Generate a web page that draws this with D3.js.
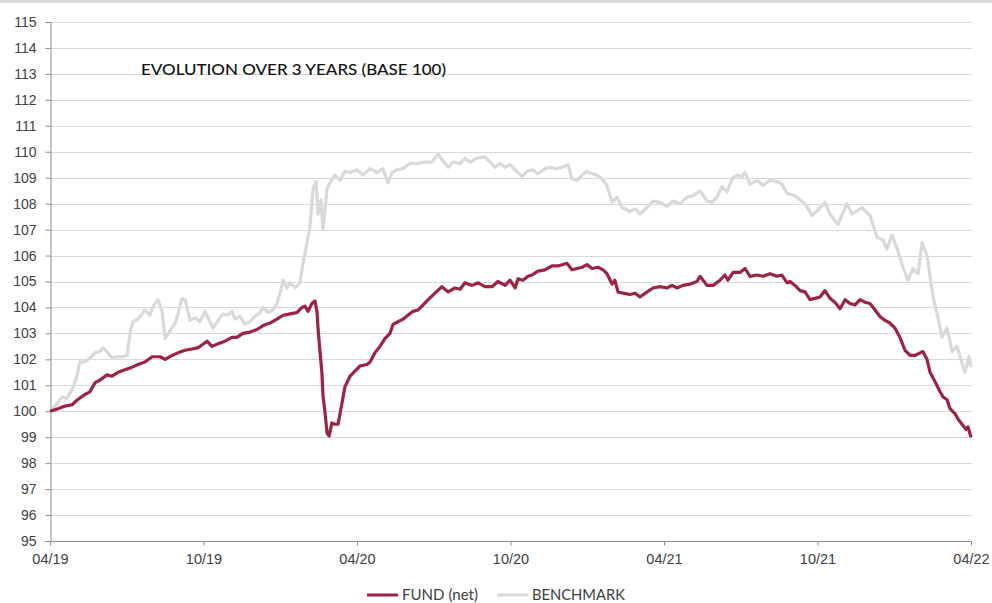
<!DOCTYPE html>
<html><head><meta charset="utf-8">
<script src="https://cdn.jsdelivr.net/npm/d3@7"></script>
<style>
body{margin:0;background:#fff;}
svg{display:block;font-family:Lato,"Open Sans",sans-serif;}
</style></head>
<body><svg id="chart" width="992" height="603"></svg>
<script>
// months since April 2019 and index values (base 100)
const fundMonths = [0,0.31,0.59,0.86,1.09,1.37,1.56,1.76,1.95,2.23,2.42,2.66,2.93,3.21,3.44,3.71,3.99,4.30,4.50,4.77,5.00,5.28,5.55,5.79,6.14,6.33,6.57,6.84,7.11,7.31,7.54,7.82,8.09,8.33,8.60,8.87,9.11,9.38,9.65,9.85,9.97,10.08,10.24,10.36,10.44,10.48,10.55,10.63,10.67,10.75,10.83,10.91,11.02,11.14,11.26,11.41,11.53,11.73,11.92,12.12,12.39,12.51,12.70,12.90,13.09,13.29,13.41,13.60,13.80,13.99,14.19,14.38,14.54,14.78,15.05,15.32,15.56,15.83,16.03,16.22,16.50,16.73,17.00,17.28,17.51,17.79,17.98,18.18,18.29,18.49,18.68,18.84,19.07,19.35,19.62,19.86,20.21,20.40,20.60,20.80,20.99,21.19,21.42,21.62,21.77,21.97,22.08,22.20,22.40,22.67,22.87,23.06,23.34,23.57,23.84,24.12,24.31,24.51,24.74,25.02,25.29,25.41,25.68,25.92,26.19,26.38,26.50,26.70,26.97,27.17,27.36,27.64,27.87,28.14,28.42,28.61,28.81,28.93,29.12,29.32,29.51,29.71,29.90,30.10,30.29,30.49,30.68,30.88,31.08,31.27,31.47,31.66,31.86,32.05,32.25,32.44,32.64,32.83,33.03,33.22,33.42,33.62,33.81,34.01,34.12,34.28,34.40,34.59,34.79,34.91,35.06,35.18,35.38,35.49,35.65,35.80,35.88,36.00];
const fundValues = [100.0,100.1,100.2,100.25,100.45,100.65,100.75,101.1,101.2,101.4,101.35,101.5,101.6,101.7,101.8,101.9,102.1,102.1,102.0,102.15,102.25,102.35,102.4,102.45,102.7,102.5,102.6,102.7,102.85,102.85,103.0,103.05,103.15,103.3,103.4,103.55,103.7,103.75,103.8,104.0,104.05,103.85,104.15,104.25,103.8,103.15,102.35,101.45,100.6,99.95,99.15,99.05,99.55,99.5,99.5,100.3,100.95,101.35,101.55,101.75,101.8,101.9,102.25,102.5,102.8,103.0,103.35,103.45,103.55,103.7,103.85,103.9,104.05,104.3,104.55,104.8,104.6,104.75,104.7,104.95,104.85,104.95,104.8,104.8,105.0,104.85,105.05,104.75,105.1,105.05,105.2,105.25,105.4,105.45,105.6,105.6,105.7,105.45,105.5,105.55,105.65,105.5,105.55,105.45,105.3,104.9,105.05,104.6,104.55,104.5,104.55,104.4,104.6,104.75,104.8,104.75,104.85,104.75,104.85,104.9,105.0,105.2,104.85,104.85,105.05,105.25,105.05,105.35,105.35,105.5,105.2,105.25,105.2,105.3,105.2,105.25,104.95,105.0,104.85,104.65,104.6,104.3,104.35,104.4,104.65,104.35,104.2,103.95,104.3,104.15,104.1,104.3,104.2,104.15,103.9,103.65,103.5,103.4,103.2,102.85,102.35,102.15,102.15,102.25,102.3,102.0,101.5,101.15,100.75,100.55,100.45,100.1,99.9,99.7,99.5,99.3,99.4,99.0];
const benchMonths = [0,0.20,0.47,0.66,0.78,0.90,1.06,1.17,1.37,1.56,1.76,1.95,2.07,2.27,2.42,2.62,2.81,3.01,3.13,3.24,3.44,3.60,3.71,3.91,4.03,4.22,4.38,4.50,4.69,4.89,5.00,5.16,5.28,5.47,5.67,5.86,6.06,6.25,6.37,6.57,6.76,6.96,7.11,7.23,7.43,7.62,7.82,8.01,8.21,8.33,8.52,8.72,8.87,8.99,9.11,9.26,9.38,9.58,9.77,9.89,10.05,10.16,10.28,10.40,10.48,10.59,10.67,10.83,10.94,11.14,11.34,11.53,11.73,12.00,12.23,12.51,12.78,13.02,13.21,13.37,13.56,13.80,14.07,14.35,14.66,14.93,15.17,15.36,15.56,15.75,16.03,16.22,16.42,16.69,17.00,17.20,17.39,17.59,17.79,17.98,18.18,18.45,18.65,18.88,19.07,19.35,19.54,19.74,20.01,20.25,20.40,20.60,20.80,20.99,21.19,21.38,21.58,21.77,21.97,22.16,22.36,22.67,22.87,23.06,23.34,23.57,23.84,24.12,24.35,24.63,24.90,25.13,25.41,25.68,25.88,26.07,26.27,26.46,26.66,26.85,27.05,27.17,27.36,27.64,27.87,28.14,28.42,28.61,28.81,29.12,29.51,29.78,30.02,30.29,30.49,30.80,31.15,31.35,31.74,32.05,32.33,32.56,32.72,32.91,33.15,33.34,33.54,33.73,33.93,34.09,34.28,34.40,34.52,34.71,34.87,35.06,35.26,35.45,35.76,35.92,36.00];
const benchValues = [100.0,100.2,100.55,100.5,100.7,100.9,101.4,101.9,101.9,102.05,102.25,102.3,102.45,102.25,102.05,102.1,102.1,102.15,103.0,103.45,103.55,103.75,103.9,103.7,104.05,104.3,103.85,102.8,103.1,103.4,103.75,104.35,104.3,103.5,103.6,103.45,103.85,103.45,103.2,103.5,103.75,103.7,103.85,103.55,103.65,103.35,103.45,103.65,103.8,104.0,103.8,103.9,104.15,104.55,105.05,104.75,104.95,104.75,104.95,105.7,106.5,107.1,108.55,108.85,107.6,108.15,107.0,108.55,108.8,109.1,108.9,109.25,109.2,109.3,109.1,109.35,109.2,109.35,108.8,109.2,109.3,109.35,109.55,109.55,109.6,109.6,109.9,109.65,109.4,109.6,109.55,109.75,109.6,109.75,109.8,109.6,109.4,109.55,109.4,109.5,109.3,109.05,109.25,109.3,109.15,109.35,109.4,109.35,109.4,109.5,108.95,108.9,109.1,109.25,109.15,109.1,108.95,108.7,108.05,108.25,107.85,107.7,107.8,107.6,107.85,108.1,108.05,107.9,108.1,108.0,108.25,108.3,108.5,108.1,108.05,108.25,108.65,108.45,108.95,109.1,109.05,109.2,108.75,108.9,108.7,108.9,108.85,108.75,108.4,108.3,108.0,107.55,107.75,108.05,107.6,107.2,108.0,107.6,107.85,107.55,106.7,106.6,106.25,106.8,106.15,105.55,105.05,105.5,105.3,106.5,106.0,105.2,104.4,103.6,102.85,103.2,102.3,102.5,101.5,102.1,101.7];
const xTickMonths = [0,6,12,18,24,30,36];
const xTickLabels = ["04/19","10/19","04/20","10/20","04/21","10/21","04/22"];
const yTicks = d3.range(95,116,1);
const seriesNames = ["FUND (net)","BENCHMARK"];
const seriesColors = ["#9b2443","#d9d9d9"];
const title = "EVOLUTION OVER 3 YEARS (BASE 100)";

const svg = d3.select("#chart");
const W = 992, H = 603;
const m = {left:50, right:21, top:22, bottom:62};
const x = d3.scaleLinear().domain([0,36]).range([m.left, W-m.right]);
const y = d3.scaleLinear().domain([95,115]).range([H-m.bottom, m.top]);

svg.append("rect").attr("x",0).attr("y",0).attr("width",W).attr("height",3).attr("fill","#d9d9d9");

// gridlines
svg.append("g").selectAll("line").data(yTicks.filter(d=>d>95)).join("line")
  .attr("x1",m.left).attr("x2",W-m.right+1)
  .attr("y1",d=>Math.round(y(d))+0.5).attr("y2",d=>Math.round(y(d))+0.5)
  .attr("stroke","#d9d9d9").attr("stroke-width",1);

// y axis
const yAxis = svg.append("g").attr("transform",`translate(${m.left+0.5},0)`)
  .call(d3.axisLeft(y).tickValues(yTicks).tickSize(5).tickPadding(9).tickFormat(d3.format("d")));
yAxis.select(".domain").attr("stroke","#8c8c8c");
yAxis.selectAll(".tick line").attr("stroke","#8c8c8c");
yAxis.selectAll("text").attr("fill","#404040").style("font-size","14px");

// x axis
const xAxis = svg.append("g").attr("transform",`translate(0,${Math.round(y(95))+0.5})`)
  .call(d3.axisBottom(x).tickValues(xTickMonths).tickSize(4).tickPadding(8).tickFormat((d,i)=>xTickLabels[i]));
xAxis.select(".domain").attr("stroke","#8c8c8c").attr("d",`M${m.left},0H${W-m.right}`);
xAxis.selectAll(".tick line").attr("stroke","#8c8c8c");
xAxis.selectAll("text").attr("fill","#404040").style("font-size","14.5px");

const line = d3.line().x(d=>x(d[0])).y(d=>y(d[1])).curve(d3.curveLinear);
const bench = benchMonths.map((t,i)=>[t,benchValues[i]]);
const fund = fundMonths.map((t,i)=>[t,fundValues[i]]);

svg.append("path").datum(bench).attr("d",line).attr("fill","none")
  .attr("stroke",seriesColors[1]).attr("stroke-width",3.2).attr("stroke-linejoin","round");
svg.append("path").datum(fund).attr("d",line).attr("fill","none")
  .attr("stroke",seriesColors[0]).attr("stroke-width",3.2).attr("stroke-linejoin","round");

// title
svg.append("text").attr("x",141).attr("y",75).text(title)
  .attr("fill","#111").style("font-size","15.5px").style("font-weight","500")
  .attr("textLength",305).attr("lengthAdjust","spacingAndGlyphs");

// legend
const leg = svg.append("g");
const legX = [367, 497];
const legW = [76, 93];
seriesNames.forEach((n,i)=>{
  leg.append("line").attr("x1",legX[i]).attr("x2",legX[i]+31).attr("y1",595).attr("y2",595)
    .attr("stroke",seriesColors[i]).attr("stroke-width",3);
  leg.append("text").attr("x",legX[i]+35).attr("y",600).text(n)
    .attr("fill","#404040").style("font-size","14.5px")
    .attr("textLength",legW[i]).attr("lengthAdjust","spacingAndGlyphs");
});
</script></body></html>
